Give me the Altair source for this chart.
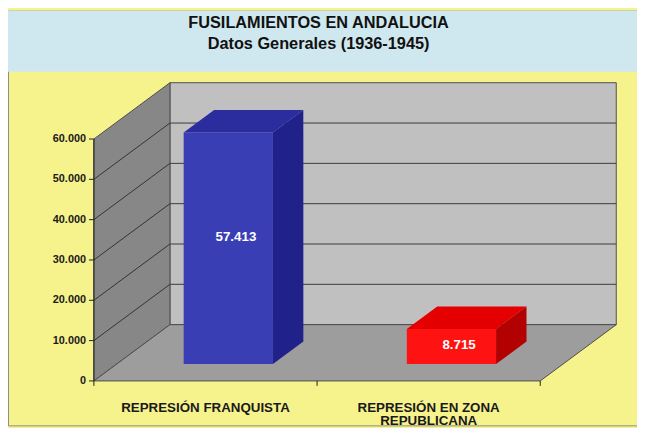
import altair as alt
import pandas as pd

# ---------------- data ----------------
title_lines = ["FUSILAMIENTOS EN ANDALUCIA", "Datos Generales (1936-1945)"]
categories = ["REPRESIÓN FRANQUISTA", "REPRESIÓN EN ZONA\nREPUBLICANA"]
values = [57413, 8715]
value_labels = ["57.413", "8.715"]
y_ticks = [0, 10000, 20000, 30000, 40000, 50000, 60000]
y_tick_labels = ["0", "10.000", "20.000", "30.000", "40.000", "50.000", "60.000"]

# ---------------- styles ----------------
front_colors = ["#3a3eb5", "#ff1212"]
top_colors = ["#2b2d9e", "#e40000"]
side_colors = ["#20228a", "#b30000"]
BG_YELLOW = "#f7f38c"
BAND_BLUE = "#cfe7ef"
BACK_WALL = "#c0c0c0"
SIDE_WALL = "#878787"
FLOOR = "#9d9d9d"
EDGE = "#4d4d4d"
FONT = "Liberation Sans"

# ---------------- layout (pixels inside the drawing) ----------------
W, H = 637, 420
AXIS_X = 87          # front-left axis position
ZERO_Y = 375         # front value 0 position
CAT_PX = 226         # width of one category on the front plane
VAL_PX = 245 / 60000 # pixels per unit of value
DEPTH_PX = (77, 57)  # 3-D depth offset (right, up)
BAR_HALF = 0.2
BAR_DEPTH = (0.3, 0.7)
LABEL_V_FRAC = 0.55
LABEL_DEPTH = 0.4
BAND_H = 62
TICK_LEN = 5

DU = DEPTH_PX[0] / CAT_PX
DV = DEPTH_PX[1] / VAL_PX
TOP = y_ticks[-1]
NCAT = len(categories)

xs = alt.Scale(domain=[-AXIS_X / CAT_PX, (W - AXIS_X) / CAT_PX], nice=False, zero=False)
ys = alt.Scale(domain=[-(H - ZERO_Y) / VAL_PX, ZERO_Y / VAL_PX], nice=False, zero=False)


def X(field):
    return alt.X(field, type="quantitative", scale=xs, axis=None)


def Y(field):
    return alt.Y(field, type="quantitative", scale=ys, axis=None)


# ---------------- title band ----------------
band = alt.Chart(pd.DataFrame({"k": [0]})).mark_rect(fill=BAND_BLUE).encode(
    x=alt.value(0), x2=alt.value(W), y=alt.value(0), y2=alt.value(BAND_H)
)
title = alt.Chart(pd.DataFrame({"t": ["\n".join(title_lines)]})).mark_text(
    font=FONT, fontSize=16.5, fontWeight="bold", color="#111111",
    lineBreak="\n", lineHeight=21, align="center", baseline="alphabetic",
).encode(x=alt.value(W / 2 - 4), y=alt.value(18), text="t:N")

# ---------------- walls and floor ----------------
wall_df = pd.DataFrame({"u1": [DU], "u2": [NCAT + DU], "v1": [DV], "v2": [TOP + DV]})
back = alt.Chart(wall_df).mark_rect(fill=BACK_WALL, stroke=EDGE, strokeWidth=1).encode(
    x=X("u1"), x2="u2", y=Y("v1"), y2="v2"
)

grid_df = pd.DataFrame({"t": y_ticks[1:-1]})
grid_df["u0"] = 0.0
grid_df["ub1"] = DU
grid_df["ub2"] = NCAT + DU
grid_df["vb"] = grid_df["t"] + DV
back_grid = alt.Chart(grid_df).mark_rule(color="#3a3a3a", strokeWidth=1).encode(
    x=X("ub1"), x2="ub2", y=Y("vb")
)

lw_df = pd.DataFrame({"u": [0, DU], "lo": [0, DV], "hi": [TOP, TOP + DV]})
left_wall = alt.Chart(lw_df).mark_area(
    orient="vertical", fill=SIDE_WALL, stroke=EDGE, strokeWidth=1
).encode(x=X("u"), y=Y("lo"), y2="hi")
left_grid = alt.Chart(grid_df).mark_rule(color="#333333", strokeWidth=1).encode(
    x=X("u0"), x2="ub1", y=Y("t"), y2="vb"
)

fl_df = pd.DataFrame({"v": [0, DV], "ul": [0, DU], "ur": [NCAT, NCAT + DU]})
floor = alt.Chart(fl_df).mark_area(
    orient="horizontal", fill=FLOOR, stroke=EDGE, strokeWidth=1
).encode(y=Y("v"), x=X("ul"), x2="ur")

# ---------------- bars (3-D boxes) ----------------
f0, f1 = BAR_DEPTH
front_rows, top_rows, side_rows, lab_rows = [], [], [], []
for i, v in enumerate(values):
    c = i + 0.5
    front_rows.append({"bar": i, "u1": c - BAR_HALF + f0 * DU, "u2": c + BAR_HALF + f0 * DU,
                       "v1": f0 * DV, "v2": v + f0 * DV, "fill": front_colors[i]})
    for f in (f0, f1):
        top_rows.append({"bar": i, "v": v + f * DV, "ul": c - BAR_HALF + f * DU,
                         "ur": c + BAR_HALF + f * DU, "fill": top_colors[i]})
        side_rows.append({"bar": i, "u": c + BAR_HALF + f * DU, "lo": f * DV,
                          "hi": v + f * DV, "fill": side_colors[i]})
    lab_rows.append({"u": c + LABEL_DEPTH * DU, "v": v * LABEL_V_FRAC + f0 * DV,
                     "label": value_labels[i]})

front = alt.Chart(pd.DataFrame(front_rows)).mark_rect().encode(
    x=X("u1"), x2="u2", y=Y("v1"), y2="v2", color=alt.Color("fill:N", scale=None)
)
top = alt.Chart(pd.DataFrame(top_rows)).mark_area(orient="horizontal").encode(
    y=Y("v"), x=X("ul"), x2="ur", color=alt.Color("fill:N", scale=None), detail="bar:N"
)
side = alt.Chart(pd.DataFrame(side_rows)).mark_area(orient="vertical").encode(
    x=X("u"), y=Y("lo"), y2="hi", color=alt.Color("fill:N", scale=None), detail="bar:N"
)
vlabels = alt.Chart(pd.DataFrame(lab_rows)).mark_text(
    font=FONT, fontSize=13.5, fontWeight="bold", color="white", align="center", baseline="middle"
).encode(x=X("u"), y=Y("v"), text="label:N")

# ---------------- front value axis ----------------
axis_df = pd.DataFrame({"u": [0.0], "v0": [0], "v1": [TOP]})
axis_line = alt.Chart(axis_df).mark_rule(color="#222222", strokeWidth=1).encode(
    x=X("u"), y=Y("v0"), y2="v1"
)
ytick_df = pd.DataFrame({"v": y_ticks, "label": y_tick_labels})
ytick_df["u0"] = 0.0
ytick_df["u1"] = -TICK_LEN / CAT_PX
y_tick_marks = alt.Chart(ytick_df).mark_rule(color="#222222", strokeWidth=1).encode(
    x=X("u1"), x2="u0", y=Y("v")
)
y_labels = alt.Chart(ytick_df).mark_text(
    font=FONT, fontSize=11, fontWeight="bold", color="#1a1a1a", align="right",
    baseline="middle", dx=-3,
).encode(x=X("u1"), y=Y("v"), text="label:N")

# ---------------- category ticks and labels ----------------
tick_df = pd.DataFrame({"u": list(range(NCAT + 1))})
tick_df["v0"] = 0
tick_df["v1"] = -TICK_LEN / VAL_PX
cat_ticks = alt.Chart(tick_df).mark_rule(color="#222222", strokeWidth=1).encode(
    x=X("u"), y=Y("v0"), y2="v1"
)
cat_df = pd.DataFrame({"u": [i + 0.5 for i in range(NCAT)], "v": [0] * NCAT, "label": categories})
cat_labels = alt.Chart(cat_df).mark_text(
    font=FONT, fontSize=13.5, fontWeight="bold", color="#1a1a1a", align="center",
    baseline="alphabetic", dy=31, lineBreak="\n", lineHeight=14,
).encode(x=X("u"), y=Y("v"), text="label:N")

chart = alt.layer(
    band, title, back, back_grid, left_wall, left_grid, floor,
    front, top, side, vlabels, axis_line, y_tick_marks, y_labels, cat_ticks, cat_labels,
).properties(
    width=W, height=H, padding=0, autosize=alt.AutoSizeParams(type="none")
).configure(background=BG_YELLOW).configure_view(stroke="#8a8a8a", strokeWidth=1)

chart.save("out.html", embed_options={"renderer": "svg", "actions": False})
